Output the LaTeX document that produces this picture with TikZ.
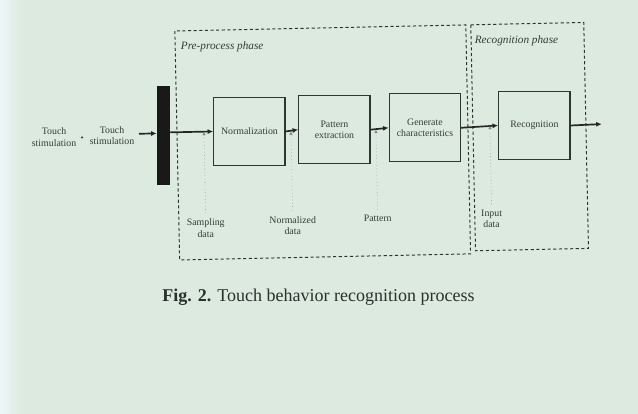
\documentclass[tikz,border=0pt]{standalone}
\usepackage{fontspec}
\setmainfont{Liberation Serif}
\usetikzlibrary{arrows.meta}

\definecolor{paper}{RGB}{221,234,223}
\definecolor{paperlight}{RGB}{238,246,248}
\definecolor{ink}{RGB}{52,60,56}

\begin{document}
\begin{tikzpicture}[x=0.025cm, y=-0.025cm, font=\fontsize{7}{8}\selectfont,
    proc/.style={draw=ink!90!black, line width=0.9pt, text=ink, align=center,
      minimum width=1.78cm, minimum height=1.7cm, inner sep=1pt},
    lbl/.style={text=ink, align=center, inner sep=1pt},
    phase/.style={draw=ink!85!black, line width=0.7pt, dash pattern=on 2.2pt off 1.8pt},
    flow/.style={draw=black!85, line width=1.2pt, -{Latex[length=4pt,width=3.6pt]}},
    dataln/.style={draw=ink!60, line width=0.4pt, dotted, -{Latex[length=2.5pt,width=2.5pt]}}]
    % paper
    \fill[paper] (0,0) rectangle (638,414);
    \shade[left color=paperlight, right color=paper] (0,0) rectangle (22,414);
    \useasboundingbox (0,0) rectangle (638,414);
    % the photographed page sits a little askew
    \begin{scope}[rotate around={1.2:(320,180)}]
    % phases
    \draw[phase] (178,28) rectangle (469,257);
    \draw[phase] (474,28) rectangle (587,254);
    \node[lbl, anchor=west, font=\fontsize{8}{9}\selectfont\itshape] (prelbl) at (182,44) {Pre-process phase};
    \node[lbl, anchor=west, font=\fontsize{8}{9}\selectfont\itshape] (reclbl) at (476,44) {Recognition phase};
    % input side
    \node[lbl] (touchA) at (55,131.5) {Touch\\stimulation};
    \node[circle, fill=ink, inner sep=0.6pt] (dot) at (83,132.5) {};
    \node[lbl] (touchB) at (113,131) {Touch\\stimulation};
    \node[fill=black!90, minimum width=0.325cm, minimum height=2.475cm, inner sep=0] (bar) at (164.5,132) {};
    \coordinate (in) at (140,130);
    % blocks
    \node[proc] (norm) at (250.5,130) {Normalization};
    \node[proc] (pat) at (335.5,130) {Pattern\\extraction};
    \node[proc] (gen) at (426,130) {Generate\\characteristics};
    \node[proc] (rec) at (535.5,130) {Recognition};
    \coordinate (out) at (603,130);
    % main flow
    \draw[flow] (in) -- (in -| bar.west);
    \draw[flow] (bar.east |- norm.west) -- (norm.west);
    \draw[flow] (norm.east) -- (pat.west);
    \draw[flow] (pat.east) -- (gen.west);
    \draw[flow] (gen.east) -- (rec.west);
    \draw[flow] (rec.east) -- (out);
    % data along the flow
    \node[lbl, anchor=north] (samp) at (205,215) {Sampling\\data};
    \node[lbl, anchor=north] (ndata) at (292,214) {Normalized\\data};
    \node[lbl, anchor=north] (pdata) at (377,215) {Pattern};
    \node[lbl, anchor=north] (idata) at (491,212) {Input\\data};
    \draw[dataln, shorten <=3pt] (samp.north) -- (samp.north |- norm.west);
    \draw[dataln, shorten <=3pt] (ndata.north) -- (ndata.north |- norm.east);
    \draw[dataln, shorten <=3pt] (pdata.north) -- (pdata.north |- pat.east);
    \draw[dataln, shorten <=3pt] (idata.north) -- (idata.north |- rec.west);
    % caption
    \node[text=ink!80!black, font=\fontsize{12.8}{15}\selectfont] (cap) at (316,297)
      {\textbf{Fig. 2.} Touch behavior recognition process};
    \end{scope}
\end{tikzpicture}
\end{document}
